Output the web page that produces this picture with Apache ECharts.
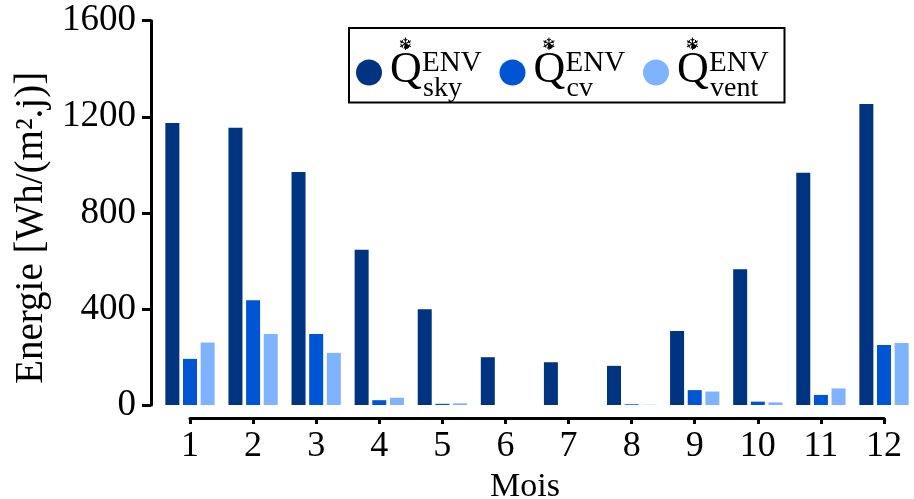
<!DOCTYPE html>
<html>
<head>
<meta charset="utf-8">
<script src="https://cdn.jsdelivr.net/npm/echarts@6/dist/echarts.min.js"></script>
<style>
html,body{margin:0;padding:0;background:#fff;}
#chart{width:914px;height:499px;}
</style>
</head>
<body>
<div id="chart"></div>
<script>
const months = [1, 2, 3, 4, 5, 6, 7, 8, 9, 10, 11, 12];
const skyData = [1174, 1154, 970, 646, 399, 199, 178, 163, 308, 565, 967, 1253];
const cvData = [192, 436, 296, 20, 5, 0, 0, 3, 62, 14, 42, 250];
const ventData = [260, 296, 217, 30, 7, 0, 0, 1, 56, 11, 69, 258];
const seriesNames = ['sky', 'cv', 'vent'];
const seriesColors = ['#003380', '#0055d4', '#80b3ff'];
const yTicks = [0, 400, 800, 1200, 1600];

const serif = 'Liberation Serif';
const chart = echarts.init(document.getElementById('chart'), null, {renderer: 'canvas'});

function pairs(arr) { return months.map((m, i) => [m, arr[i]]); }
const allData = [skyData, cvData, ventData];

const option = {
  animation: false,
  backgroundColor: '#fff',
  grid: {left: 190, right: 30, top: 20.7, bottom: 94, containLabel: false, outerBoundsMode: 'none'},
  legend: {
    left: 349, top: 28,
    padding: [9, 10, 0, 7],
    borderColor: '#000', borderWidth: 2,
    itemGap: 12, itemWidth: 26, itemHeight: 26,
    icon: 'circle',
    data: seriesNames,
    formatter: name => '{a|❄}\n{q|Q\u0307}{e|ENV}{b|' + name + '}{h| }',
    textStyle: {
      fontFamily: serif, color: '#000',
      rich: {
        a: {fontFamily: 'DejaVu Sans', fontSize: 17, align: 'left', padding: [0, 0, 0, 11], lineHeight: 6, color: '#000'},
        q: {fontFamily: serif, fontSize: 44, width: 32, align: 'left', padding: [0, 0, 0, 3], lineHeight: 44, verticalAlign: 'top', color: '#000'},
        e: {fontFamily: serif, fontSize: 29, width: 1, align: 'left', lineHeight: 23, verticalAlign: 'top', color: '#000'},
        b: {fontFamily: serif, fontSize: 28, width: 62, align: 'left', lineHeight: 34, verticalAlign: 'bottom', color: '#000'},
        h: {fontSize: 10, width: 1, align: 'left', lineHeight: 54}
      }
    }
  },
  xAxis: {
    type: 'value', min: 1, max: 12, interval: 1,
    offset: 13,
    name: 'Mois', nameLocation: 'middle', nameGap: 49,
    nameTextStyle: {fontFamily: serif, fontSize: 34, color: '#000', padding: [0, 24, 0, 0]},
    axisLine: {show: true, onZero: false, lineStyle: {color: '#000', width: 3}},
    axisTick: {show: true, inside: false, length: 6, lineStyle: {color: '#000', width: 3}},
    axisLabel: {fontFamily: serif, fontSize: 36, color: '#000', margin: 11, formatter: v => String(v)},
    splitLine: {show: false}
  },
  yAxis: {
    type: 'value', min: yTicks[0], max: yTicks[yTicks.length - 1], interval: 400,
    offset: 39,
    name: 'Energie [Wh/(m².j)]', nameLocation: 'middle', nameGap: 98,
    nameTextStyle: {fontFamily: serif, fontSize: 39, color: '#000', padding: [0, 30, 0, 0]},
    axisLine: {show: true, onZero: false, lineStyle: {color: '#000', width: 3}},
    axisTick: {show: true, inside: false, length: 9, lineStyle: {color: '#000', width: 3}},
    axisLabel: {fontFamily: serif, fontSize: 37, color: '#000', margin: 15, formatter: v => String(v)},
    splitLine: {show: false}
  },
  series: seriesNames.map((n, i) => ({
    name: n, type: 'bar',
    data: pairs(allData[i]),
    barWidth: 14, barGap: '26%',
    clip: false,
    itemStyle: {color: seriesColors[i]}
  }))
};
chart.setOption(option);
</script>
</body>
</html>
